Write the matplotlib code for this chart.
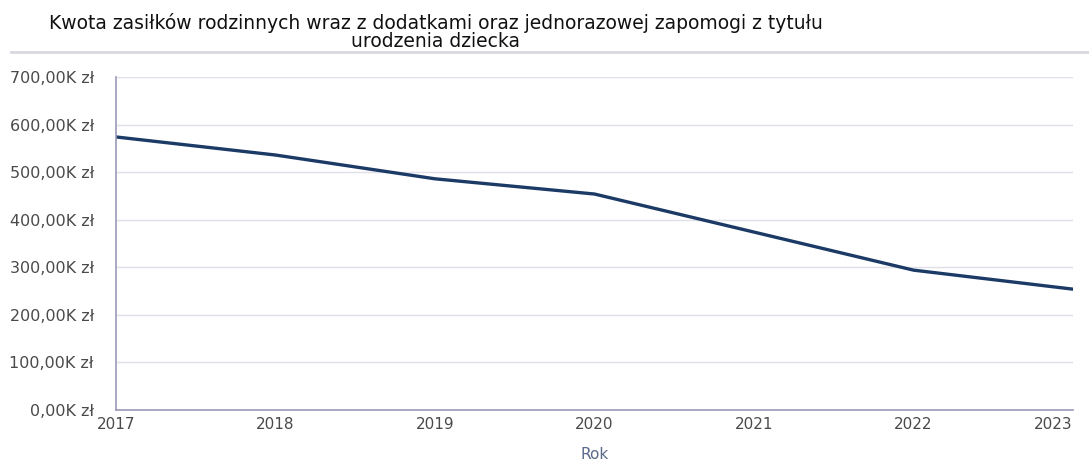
import matplotlib.pyplot as plt
from matplotlib.lines import Line2D
from matplotlib.ticker import FuncFormatter

years = [2017, 2018, 2019, 2020, 2021, 2022, 2023]
amounts = [574, 536, 486, 454, 374, 294, 254]  # thousands zł

title = 'Kwota zasiłków rodzinnych wraz z dodatkami oraz jednorazowej zapomogi z tytułu\nurodzenia dziecka'

fig = plt.figure(figsize=(10.89, 4.62), dpi=100)
ax = fig.add_axes([0.1065, 0.1126, 0.8788, 0.7207])

ax.plot(years, amounts, color='#1c3a66', linewidth=2.4)

ax.set_xlim(2017, 2023)
ax.set_ylim(0, 700)
ax.set_yticks(range(0, 701, 100))
ax.set_xticks(years)
ax.yaxis.set_major_formatter(FuncFormatter(lambda v, p: f'{v:.2f}'.replace('.', ',') + 'K zł'))
ax.grid(axis='y', color='#e0e0e8', linewidth=1)
ax.set_axisbelow(True)

for s in ['top', 'right']:
    ax.spines[s].set_visible(False)
for s in ['left', 'bottom']:
    ax.spines[s].set_color('#9a9ab8')
    ax.spines[s].set_linewidth(1.2)

ax.tick_params(length=0, labelcolor='#4a4a4a')
ax.tick_params(axis='y', pad=16, labelsize=11.5)
ax.tick_params(axis='x', pad=5, labelsize=11)
labels = ax.get_xticklabels()
labels[-1].set_horizontalalignment('right')
labels[-1].set_x(2023)

ax.set_xlabel('Rok', fontsize=11, color='#5a6a8a', labelpad=11)

fig.text(0.4, 0.972, title, ha='center', va='top', fontsize=13.5, color='#111111', linespacing=0.95)
fig.add_artist(Line2D([0.01, 1.0], [0.887, 0.887], transform=fig.transFigure, color='#d8d8e0', linewidth=2))

fig.savefig('out.png', dpi=100)
